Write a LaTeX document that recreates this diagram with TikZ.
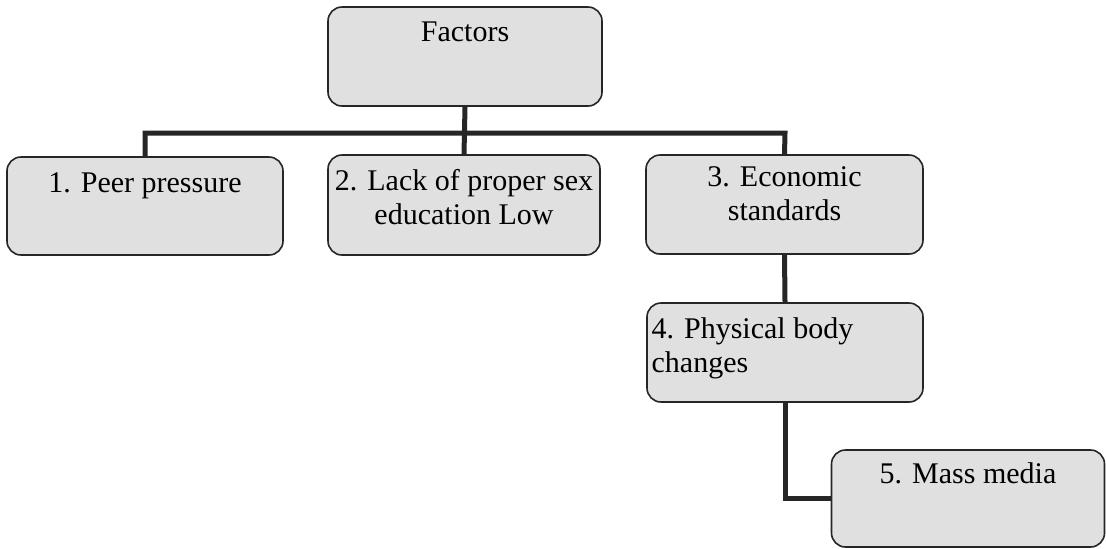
\documentclass[tikz,border=0pt]{standalone}
\usepackage{fontspec}
\setmainfont{Liberation Serif}
\usetikzlibrary{positioning}

\begin{document}
\begin{tikzpicture}[x=0.5pt,y=-0.5pt,
        factorbox/.style={draw=black!85,line width=0.8pt,rounded corners=7pt,fill=black!12,inner sep=0pt},
        factortext/.style={inner sep=0pt,align=center,font=\fontsize{15}{17}\selectfont},
        link/.style={line width=2.5pt,draw=black!85}]
        \useasboundingbox (0,0) rectangle (1106,548);
        % Boxes
        \draw (465,56.5) node[factorbox,minimum width=137pt,minimum height=49.5pt](factors) {};
        \draw (145,206) node[factorbox,minimum width=138pt,minimum height=49pt](peer) {};
        \draw (464,205) node[factorbox,minimum width=136pt,minimum height=50pt](lack) {};
        \draw (784.5,204.5) node[factorbox,minimum width=138.5pt,minimum height=49.5pt](econ) {};
        \draw (785,352.5) node[factorbox,minimum width=138pt,minimum height=49.5pt](body) {};
        \draw (968,498.5) node[factorbox,minimum width=136.5pt,minimum height=48.5pt](media) {};
        % Labels
        \node[factortext,below=7.5pt of factors.north](factorstext) {Factors};
        \node[factortext,below=8pt of peer.north](peertext) {1. Peer pressure};
        \node[factortext,below=7.5pt of lack.north](lacktext) {2. Lack of proper sex\\education Low};
        \node[factortext,below=6pt of econ.north](econtext) {3. Economic\\standards};
        \node[factortext,align=left,below right=7.5pt and 2.5pt of body.north west](bodytext) {4. Physical body\\changes};
        \node[factortext,below=6.5pt of media.north](mediatext) {5. Mass media};
        % Links
        \coordinate (busright) at (785,133);
        \draw[link] (factors.south) -- (lack.north);
        \draw[link] (peer.north) |- (busright) -- (econ.north);
        \draw[link] (econ.south) -- (body.north);
        \draw[link] (body.south) |- (media.west);
    \end{tikzpicture}
\end{document}
